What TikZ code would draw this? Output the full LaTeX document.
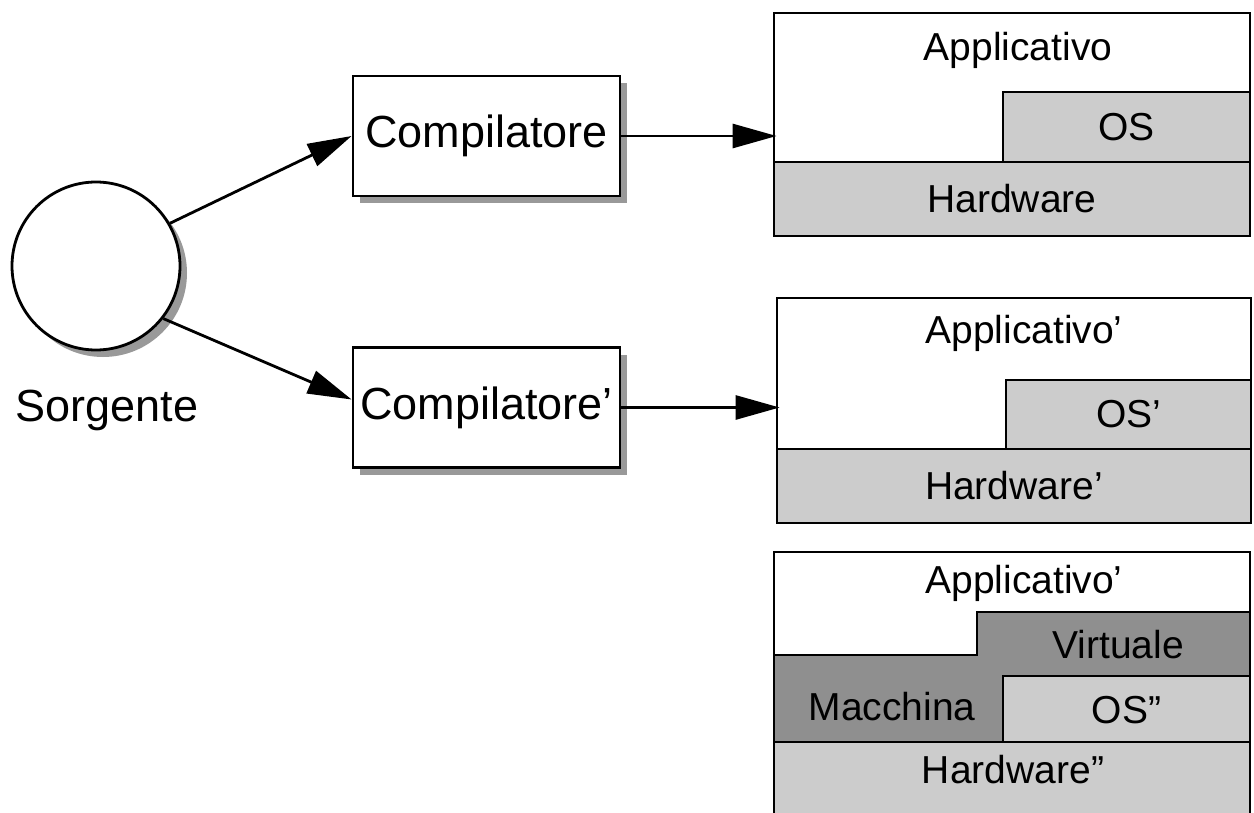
\documentclass[tikz,border=0pt]{standalone}
\usepackage{fontspec}
\setmainfont{Liberation Sans}
\usetikzlibrary{arrows.meta,shadows}
\definecolor{lgray}{gray}{0.8}
\definecolor{dgray}{gray}{0.56}
\definecolor{shadowgray}{gray}{0.6}
\tikzset{
  big/.style={font=\fontsize{45}{54}\selectfont, inner sep=0pt},
  small/.style={font=\fontsize{39}{47}\selectfont, inner sep=0pt},
  shade/.style={drop shadow={shadow xshift=7pt, shadow yshift=-7pt, fill=shadowgray, opacity=1}},
  compbox/.style={draw, line width=2.8pt, fill=white, shade, minimum width=267pt, minimum height=120pt, inner sep=0pt, font=\fontsize{45}{54}\selectfont},
  layer/.style={draw, line width=2.8pt, inner sep=0pt},
  arr/.style={line width=2.8pt, -{Triangle[length=44pt,width=24pt]}},
}
\begin{document}
\begin{tikzpicture}[x=1pt,y=-1pt]
\useasboundingbox (0,0) rectangle (1254,813);

% source
\node[circle, draw, line width=2.8pt, fill=white, shade, minimum size=168pt, inner sep=0pt] (src) at (96,266) {};
\node[big] (srclabel) at (107,410) {Sorgente};

% compilers
\node[compbox] (comp1) at (486.5,136) {Compilatore};
\node[compbox] (comp2) at (486.5,407.5) {Compilatore'};

% stack 1
\node[layer, fill=white, minimum width=476pt, minimum height=149pt] (app1) at (1012,87.5) {};
\node[layer, fill=lgray, minimum width=247pt, minimum height=70pt, small] (os1) at (1126.5,127) {OS};
\node[layer, fill=lgray, minimum width=476pt, minimum height=74pt, small] (hw1) at (1012,199) {Hardware};
\node[small] (app1t) at (1018,50) {Applicativo};

% stack 2
\node[layer, fill=white, minimum width=474pt, minimum height=151pt] (app2) at (1014,373.5) {};
\node[layer, fill=lgray, minimum width=245pt, minimum height=69pt, small] (os2) at (1128.5,414.5) {OS'};
\node[layer, fill=lgray, minimum width=474pt, minimum height=74pt, small] (hw2) at (1014,486) {Hardware'};
\node[small] (app2t) at (1024,333) {Applicativo'};

% stack 3
\node[layer, fill=white, minimum width=476pt, minimum height=103pt] (app3) at (1012,603.5) {};
\node[small] (app3t) at (1024,583) {Applicativo'};
\filldraw[line width=2.8pt, fill=dgray] (774,655) -- (977,655) -- (977,612) -- (1250,612) -- (1250,742) -- (774,742) -- cycle;
\node[small] (vmt1) at (1118,645) {Virtuale};
\node[small] (vmt2) at (892,707) {Macchina};
\node[layer, fill=lgray, minimum width=247pt, minimum height=69pt, small] (os3) at (1126.5,710.5) {OS''};
\node[layer, fill=lgray, minimum width=476pt, minimum height=88pt] (hw3) at (1012,786) {};
\node[small] (hw3t) at (1013,770) {Hardware''};

% connectors
\draw[arr] (src.30) -- (comp1.west);
\draw[arr] (src.-38) -- ([yshift=8pt]comp2.west);
\draw[arr] (comp1.east) -- ([xshift=4pt]comp1.east -| app1.west);
\draw[arr] (comp2.east) -- ([xshift=4pt]comp2.east -| app2.west);
\end{tikzpicture}
\end{document}
